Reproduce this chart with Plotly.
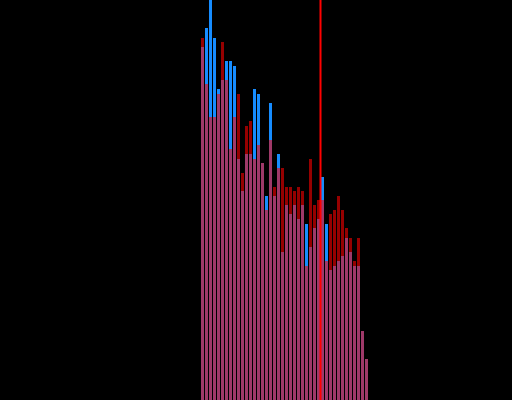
import plotly.graph_objects as go

bins = list(range(42))
blue_vals = [353, 372, 400, 362, 311, 320, 339, 339, 334, 241,
             209, 246, 246, 311, 306, 237, 204, 297, 204, 246,
             148, 195, 186, 195, 181, 195, 176, 153, 172, 181,
             223, 176, 130, 134, 139, 144, 162, 148, 134, 134,
             69, 41]
red_vals = [362, 316, 283, 283, 306, 358, 320, 251, 283, 306,
            227, 274, 279, 241, 255, 237, 190, 260, 213, 232,
            232, 213, 213, 209, 213, 209, 134, 241, 195, 200,
            200, 139, 186, 190, 204, 190, 172, 162, 139, 162,
            69, 41]
marker_line_x = 29.5

fig = go.Figure()
fig.add_trace(go.Bar(x=bins, y=blue_vals, width=0.75, hoverinfo="skip",
                     marker=dict(color="rgb(22,140,255)", line=dict(width=0))))
fig.add_trace(go.Bar(x=bins, y=red_vals, width=0.75, hoverinfo="skip",
                     marker=dict(color="rgba(255,0,0,0.59)", line=dict(width=0))))
fig.add_shape(type="line", x0=marker_line_x, x1=marker_line_x, y0=0, y1=1,
              xref="x", yref="paper", line=dict(color="rgb(255,0,0)", width=2),
              layer="above")
fig.update_layout(
    width=512, height=400, margin=dict(l=0, r=0, t=0, b=0),
    paper_bgcolor="black", plot_bgcolor="black",
    barmode="overlay", showlegend=False,
    xaxis=dict(range=[-50.625, 77.375], visible=False, showgrid=False, zeroline=False),
    yaxis=dict(range=[0, 400], visible=False, showgrid=False, zeroline=False),
)
fig.write_html(
    "out.html",
    config={"displayModeBar": False},
    post_script="document.body.style.margin='0';document.body.style.background='black';document.body.style.overflow='hidden';",
)
